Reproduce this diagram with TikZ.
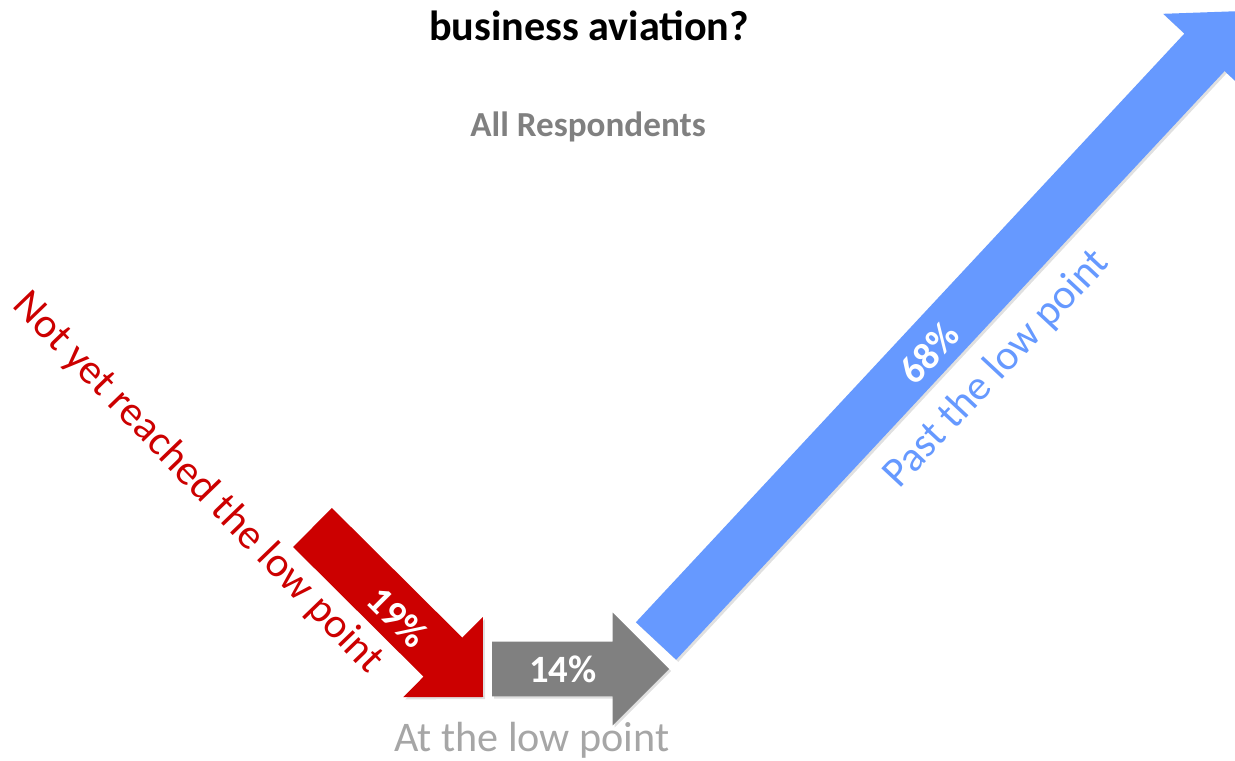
\documentclass[tikz,border=0pt]{standalone}
\usepackage{fontspec}
\setmainfont{Carlito}
\usetikzlibrary{calc}
\definecolor{lowred}{RGB}{204,0,0}
\definecolor{lowgray}{RGB}{128,128,128}
\definecolor{lowblue}{RGB}{102,153,255}
\definecolor{softgray}{RGB}{166,166,166}
% block arrow: colour, tail, tip
\newcommand{\blockarrow}[3]{%
  \coordinate (hb) at ($(#3)!1.13cm!(#2)$);
  \fill[#1, shade] ($(#2)!0.55cm!90:(#3)$) -- ($(hb)!0.55cm!-90:(#2)$)
    -- ($(hb)!1.13cm!-90:(#2)$) -- (#3) -- ($(hb)!1.13cm!90:(#2)$)
    -- ($(hb)!0.55cm!90:(#2)$) -- ($(#2)!0.55cm!-90:(#3)$) -- cycle;
}

\begin{document}
\begin{tikzpicture}[x=0.02cm, y=0.02cm,
  every node/.style={inner sep=0pt},
  pct/.style={text=white, font=\fontsize{22}{26}\selectfont\bfseries},
  lbl/.style={font=\fontsize{24}{29}\selectfont},
  shade/.style={preaction={fill=black, opacity=0.12,
                transform canvas={xshift=1.2pt, yshift=-1.2pt}}}
]
  \clip (0,0) rectangle (1235,761);

  \coordinate (redtail) at (312.5,233.5);
  \coordinate (redtip) at (483,64);
  \coordinate (graytail) at (492,92);
  \coordinate (graytip) at (669,92);
  \coordinate (bluetail) at (656,120);
  \coordinate (bluetip) at (1243,750);

  \blockarrow{lowred}{redtail}{redtip}
  \blockarrow{lowgray}{graytail}{graytip}
  \blockarrow{lowblue}{bluetail}{bluetip}

  \node[font=\fontsize{24}{29}\selectfont\bfseries, anchor=base] (title) at (589,720) {business aviation?};
  \node[font=\fontsize{20}{24}\selectfont\bfseries, text=lowgray, anchor=base] (sub) at (588,624) {All Respondents};

  \node[pct, rotate=-45] (p19) at (398,144) {19\%};
  \node[pct] (p14) at (563,92) {14\%};
  \node[pct, rotate=47] (p68) at (929,408) {68\%};

  \node[lbl, text=lowred, rotate=-46] (notyet) at (198,278) {Not yet reached the low point};
  \node[lbl, text=lowblue, rotate=47] (past) at (997,392) {Past the low point};
  \node[lbl, text=softgray, anchor=base] (atlow) at (532,9) {At the low point};
\end{tikzpicture}
\end{document}
